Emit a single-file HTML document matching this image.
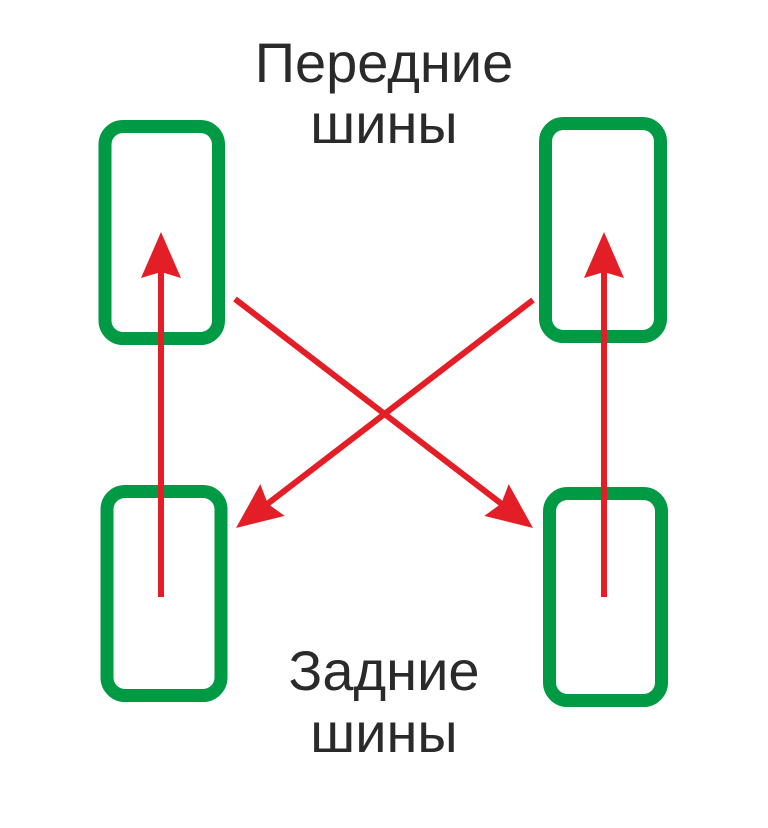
<!DOCTYPE html>
<html><head><meta charset="utf-8"><style>
html,body{margin:0;padding:0;background:#fff;}
svg{display:block;}
text{font-family:"Liberation Sans",sans-serif;fill:#2a2a2a;font-size:56px;}
</style></head><body>
<svg width="768" height="828" viewBox="0 0 768 828" xmlns="http://www.w3.org/2000/svg">
<defs>
<polygon id="ah" points="0,0 -46,-20 -40,0 -46,20" fill="#e31e26"/>
</defs>
<g fill="none" stroke="#009a44" stroke-width="13">
<rect x="105" y="126.5" width="113.5" height="212" rx="18"/>
<rect x="545.5" y="123.5" width="115" height="213" rx="18"/>
<rect x="107" y="491.5" width="114" height="204" rx="18"/>
<rect x="549.5" y="493.5" width="112" height="207" rx="18"/>
</g>
<g stroke="#e31e26" stroke-width="6" fill="none">
<line x1="161" y1="597" x2="161" y2="270"/>
<line x1="604" y1="597" x2="604" y2="270"/>
<line x1="235" y1="299" x2="503" y2="505"/>
<line x1="533" y1="300" x2="266" y2="505"/>
</g>
<use href="#ah" transform="translate(161,232) rotate(-90)"/>
<use href="#ah" transform="translate(604,232) rotate(-90)"/>
<use href="#ah" transform="translate(533,528) rotate(37.5)"/>
<use href="#ah" transform="translate(236,528) rotate(142.5)"/>
<text x="384" y="82" text-anchor="middle">Передние</text>
<text x="384" y="143" text-anchor="middle">шины</text>
<text x="384" y="690" text-anchor="middle">Задние</text>
<text x="384" y="752" text-anchor="middle">шины</text>
</svg>
</body></html>
